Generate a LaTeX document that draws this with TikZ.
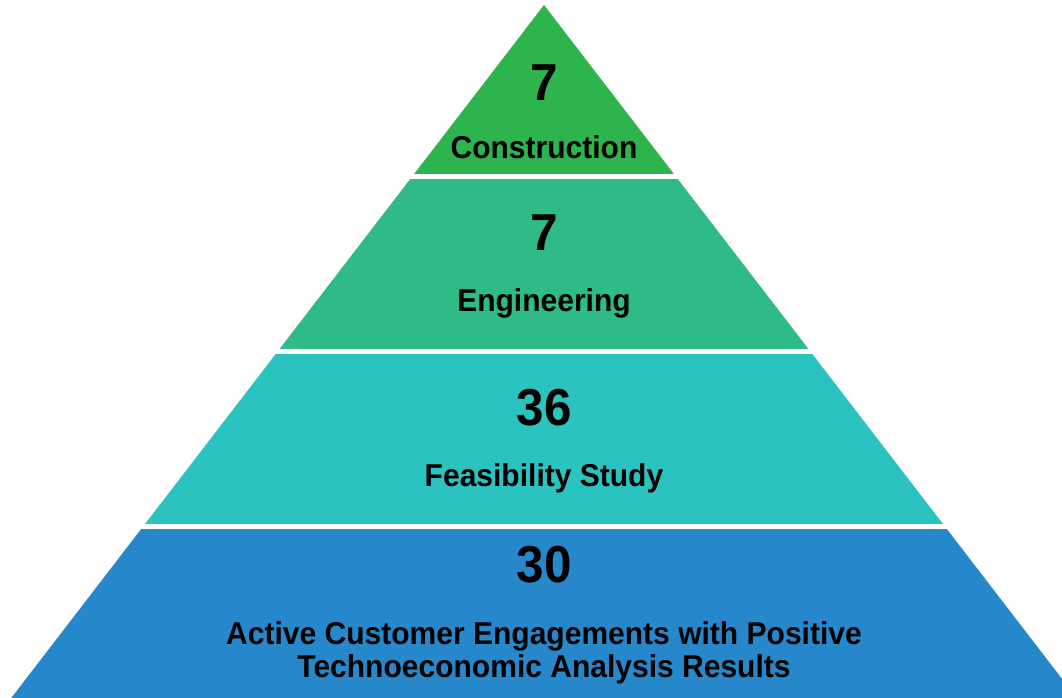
\documentclass[tikz,border=0pt]{standalone}
\usepackage{fontspec}
\setmainfont{Liberation Sans}[FakeStretch=0.95]
\definecolor{bandA}{RGB}{46,180,76}
\definecolor{bandB}{RGB}{46,187,133}
\definecolor{bandC}{RGB}{43,195,192}
\definecolor{bandD}{RGB}{38,136,203}
\tikzset{
  num/.style={font=\bfseries\fontsize{52}{55}\selectfont, text=black, inner sep=0pt},
  lbl/.style={font=\bfseries\fontsize{31.6}{33}\selectfont, text=black, inner sep=0pt, align=center},
}
\newcommand{\pyr}{(544,5) -- (1082.9,706) -- (5.1,706) -- cycle}
\begin{document}
\begin{tikzpicture}[x=1pt,y=-1pt]
\useasboundingbox (0,0) rectangle (1062,698);
\clip (0,0) rectangle (1062,698);
\begin{scope}\clip (0,0) rectangle (1062,173.3); \fill[bandA] \pyr; \end{scope}
\begin{scope}\clip (0,179) rectangle (1062,348.3); \fill[bandB] \pyr; \end{scope}
\begin{scope}\clip (0,354) rectangle (1062,523); \fill[bandC] \pyr; \end{scope}
\begin{scope}\clip (0,529) rectangle (1062,700); \fill[bandD] \pyr; \end{scope}
\node[num] (n1) at (544,83) {7};
\node[lbl] (l1) at (544,147) {Construction};
\node[num] (n2) at (544,233) {7};
\node[lbl] (l2) at (544,303) {Engineering};
\node[num] (n3) at (544,408) {36};
\node[lbl] (l3) at (544,478) {Feasibility Study};
\node[num] (n4) at (544,565) {30};
\node[lbl] (l4) at (544,653) {Active Customer Engagements with Positive\\Technoeconomic Analysis Results};
\end{tikzpicture}
\end{document}
